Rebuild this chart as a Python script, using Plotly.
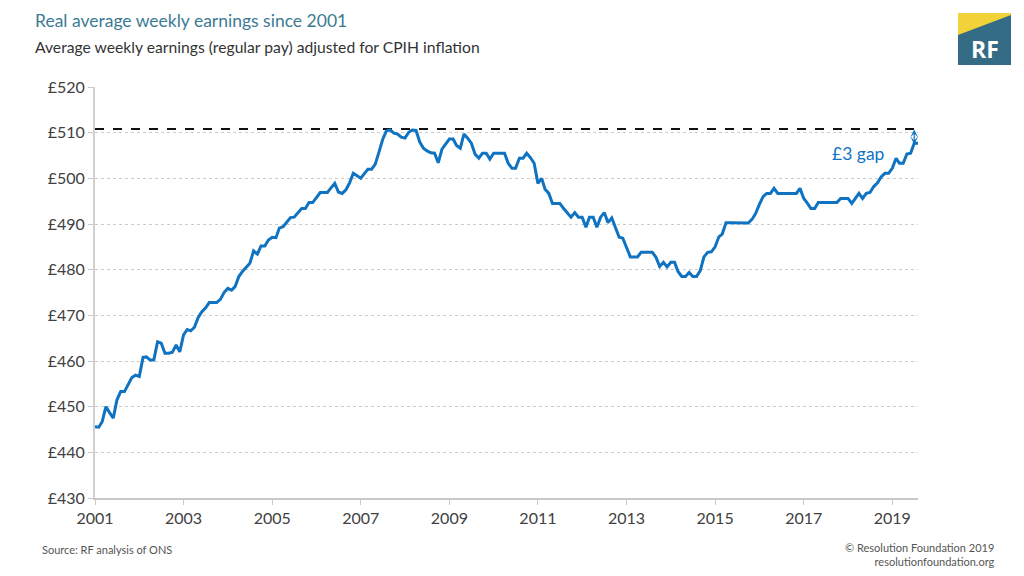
import pandas as pd
import plotly.graph_objects as go

# Real average weekly earnings (£, CPIH-adjusted), monthly from Jan 2001
earnings = [
    445.6, 445.5, 446.7, 450.0, 448.7, 447.5, 451.5, 453.3, 453.3, 455.0, 456.4, 456.9,  # 2001
    456.6, 460.8, 460.9, 460.2, 460.2, 464.2, 463.9, 461.7, 461.7, 461.9, 463.5, 462.0,  # 2002
    465.7, 466.9, 466.6, 467.4, 469.5, 470.8, 471.6, 472.8, 472.8, 472.8, 473.5, 475.0,  # 2003
    475.9, 475.5, 476.3, 478.5, 479.6, 480.5, 481.4, 484.1, 483.4, 485.2, 485.2, 486.5,  # 2004
    487.1, 487.0, 489.1, 489.4, 490.4, 491.4, 491.5, 492.5, 493.4, 493.4, 494.7, 494.7,  # 2005
    495.8, 496.9, 496.9, 496.9, 497.9, 498.9, 497.0, 496.7, 497.5, 499.0, 501.1, 500.5,  # 2006
    500.0, 501.1, 502.0, 502.0, 503.1, 505.8, 508.5, 510.4, 510.6, 509.9, 509.7, 509.0,  # 2007
    508.8, 510.1, 510.6, 510.5, 508.0, 506.6, 506.0, 505.6, 505.5, 503.4, 506.4, 507.5,  # 2008
    508.6, 508.6, 507.2, 506.6, 509.7, 508.8, 507.7, 505.3, 504.4, 505.5, 505.5, 504.2,  # 2009
    505.5, 505.5, 505.5, 505.5, 503.3, 502.2, 502.2, 504.4, 504.4, 505.5, 504.5, 503.3,  # 2010
    498.9, 500.0, 497.6, 496.7, 494.5, 494.5, 494.5, 493.4, 492.5, 491.5, 492.5, 491.5,  # 2011
    491.5, 489.3, 491.5, 491.5, 489.3, 491.5, 492.5, 490.3, 491.3, 489.4, 487.1, 486.9,  # 2012
    484.8, 482.8, 482.8, 482.8, 483.8, 483.8, 483.8, 483.8, 482.7, 480.7, 481.6, 480.6,  # 2013
    481.6, 481.6, 479.6, 478.5, 478.5, 479.4, 478.5, 478.5, 479.8, 482.8, 483.8, 483.9,  # 2014
    485.0, 487.2, 487.8, 490.3, 490.3, 490.3, 490.3, 490.3, 490.3, 490.2, 491.0, 492.3,  # 2015
    494.3, 496.0, 496.7, 496.7, 497.8, 496.7, 496.7, 496.7, 496.7, 496.7, 496.7, 497.8,  # 2016
    495.6, 494.5, 493.4, 493.4, 494.7, 494.7, 494.7, 494.7, 494.7, 494.7, 495.6, 495.6,  # 2017
    495.6, 494.5, 495.6, 496.7, 495.6, 496.7, 496.9, 498.2, 499.0, 500.3, 501.1, 501.1,  # 2018
    502.2, 504.4, 503.3, 503.3, 505.3, 505.5, 507.7, 507.7,                              # 2019
]
start_month = "2001-01-01"
previous_peak = 510.8
gap_label = "£3 gap"
y_ticks = [430, 440, 450, 460, 470, 480, 490, 500, 510, 520]
x_tick_years = ["2001", "2003", "2005", "2007", "2009", "2011", "2013", "2015", "2017", "2019"]

dates = pd.date_range(start_month, periods=len(earnings), freq="MS")

BLUE = "#0f73c1"
TEAL = "#3b7b93"
GREY = "#404040"
FONT = "Lato"

# page offset of the figure inside the browser body
OFF = 8
W, H = 1024 - 2 * OFF, 576 - 2 * OFF
# plot area edges in screen pixels
SL, SR, ST, SB = 95, 918, 87, 498
L, T = SL - OFF, ST - OFF
R, B = W - (SR - OFF), H - (SB - OFF)
pw, ph = SR - SL, SB - ST


def px(x):
    return (x - SL) / pw


def py(y):
    return (SB - y) / ph


fig = go.Figure()
fig.add_trace(go.Scatter(
    x=dates, y=[previous_peak] * len(dates), mode="lines",
    line=dict(color="#111111", width=2, dash="dash"), hoverinfo="skip", showlegend=False,
))
fig.add_trace(go.Scatter(
    x=dates, y=earnings, mode="lines",
    line=dict(color=BLUE, width=3), showlegend=False,
))

# double-headed arrow marking the gap
fig.add_annotation(
    x=dates[-2], y=previous_peak - 0.1, ax=dates[-2], ay=earnings[-1] - 0.6,
    xref="x", yref="y", axref="x", ayref="y", text="", showarrow=True,
    arrowhead=3, startarrowhead=3, arrowside="end+start", arrowsize=1.1, startarrowsize=1.1,
    arrowwidth=1.2, arrowcolor=BLUE,
)
fig.add_annotation(
    x=dates[-17], y=previous_peak - 5.3, xref="x", yref="y", text=gap_label,
    showarrow=False, font=dict(family=FONT, size=17.5, color=BLUE),
)

fig.add_annotation(x=px(33), y=py(21), xref="paper", yref="paper", xanchor="left", yanchor="middle",
                   text="Real average weekly earnings since 2001", showarrow=False,
                   font=dict(family=FONT, size=17.5, color=TEAL))
fig.add_annotation(x=px(33), y=py(47), xref="paper", yref="paper", xanchor="left", yanchor="middle",
                   text="Average weekly earnings (regular pay) adjusted for CPIH inflation", showarrow=False,
                   font=dict(family=FONT, size=15.7, color="#333333"))
fig.add_annotation(x=px(40), y=py(549), xref="paper", yref="paper", xanchor="left", yanchor="middle",
                   text="Source: RF analysis of ONS", showarrow=False,
                   font=dict(family=FONT, size=11, color="#555555"))
fig.add_annotation(x=px(997), y=py(554), xref="paper", yref="paper", xanchor="right", yanchor="middle",
                   text="© Resolution Foundation 2019<br>resolutionfoundation.org", showarrow=False, align="right",
                   font=dict(family=FONT, size=11, color="#555555"))

# logo
fig.add_shape(type="rect", xref="paper", yref="paper", x0=px(958), x1=px(1011), y0=py(65), y1=py(13),
              fillcolor="#336c84", line=dict(width=0), layer="above")
fig.add_shape(type="path", xref="paper", yref="paper",
              path=f"M {px(958)},{py(13)} L {px(1011)},{py(13)} L {px(1011)},{py(15)} L {px(958)},{py(35)} Z",
              fillcolor="#f2d23a", line=dict(width=0), layer="above")
fig.add_annotation(x=px(984.5), y=py(49), xref="paper", yref="paper", xanchor="center", yanchor="middle",
                   text="<b>RF</b>", showarrow=False,
                   font=dict(family="Open Sans", size=23, color="white"))

fig.update_layout(
    width=W, height=H, margin=dict(l=L, r=R, t=T, b=B),
    paper_bgcolor="white", plot_bgcolor="white",
    font=dict(family=FONT, color=GREY),
)
fig.update_xaxes(
    type="date", range=[dates[0], dates[-1]],
    tickvals=[pd.Timestamp(f"{y}-01-01") for y in x_tick_years], ticktext=x_tick_years,
    ticks="outside", ticklen=5, tickcolor="#c8c8c8", showline=True, linecolor="#c8c8c8", linewidth=2,
    showgrid=False, tickfont=dict(family=FONT, size=16, color=GREY), zeroline=False,
)
fig.update_yaxes(
    range=[430, 520], tickvals=y_ticks, ticktext=[f"£{v}" for v in y_ticks],
    ticks="outside", ticklen=5, tickcolor="#c8c8c8", showline=True, linecolor="#d0d0d0", linewidth=2,
    showgrid=True, gridcolor="#cccccc", griddash="dot", gridwidth=1,
    tickfont=dict(family=FONT, size=16, color=GREY), zeroline=False,
)

fig.write_html("out.html")
